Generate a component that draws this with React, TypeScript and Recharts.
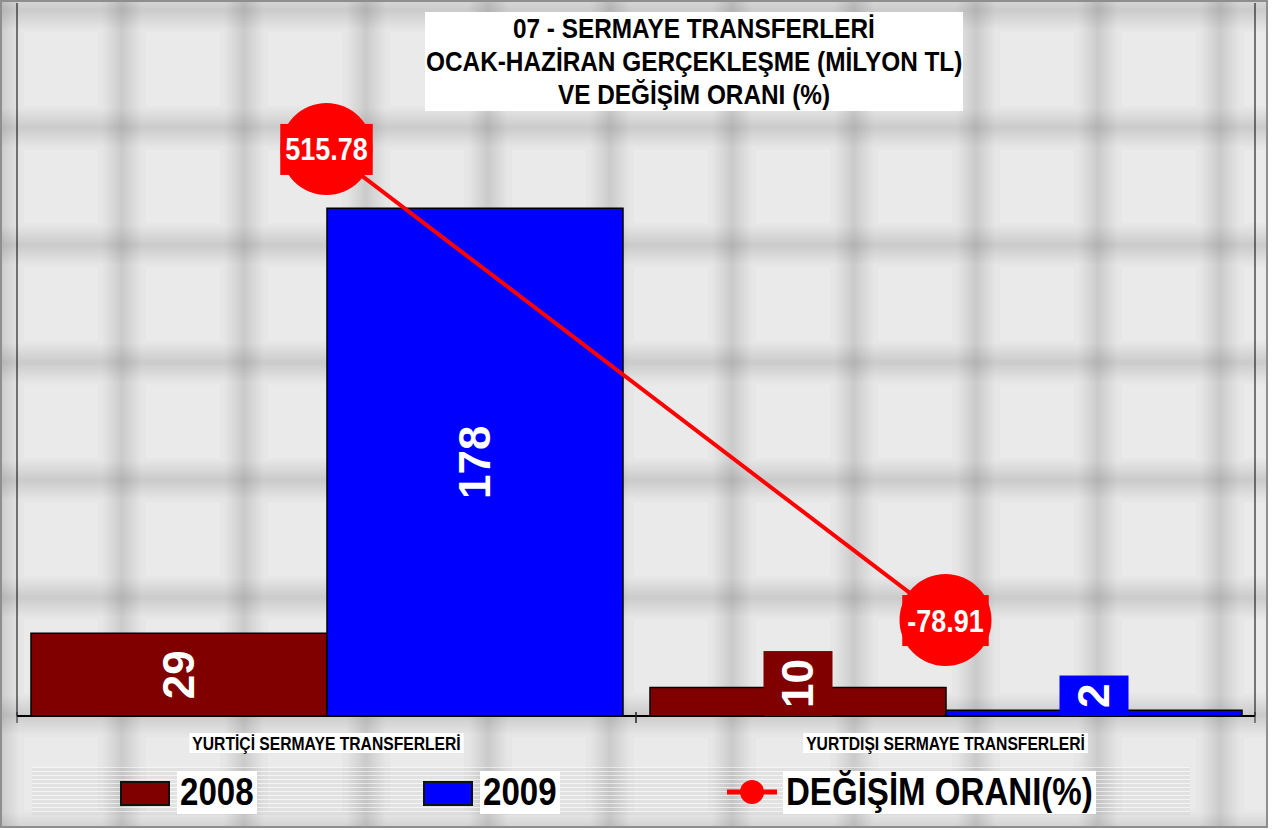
import React from "react";
import {
  Bar,
  ComposedChart,
  LabelList,
  Legend,
  Line,
  XAxis,
  YAxis,
} from "recharts";

// values
const categories = ["YURTİÇİ SERMAYE TRANSFERLERİ", "YURTDIŞI SERMAYE TRANSFERLERİ"];
const values2008 = [29, 10];
const values2009 = [178, 2];
const changeRate = [515.78, -78.91];
const leftTicks = [0, 50, 100, 150, 200, 250];
const rightTicks = [-200, -100, 0, 100, 200, 300, 400, 500, 600, 700];
const titleLines = [
  "07 - SERMAYE TRANSFERLERİ",
  "OCAK-HAZİRAN GERÇEKLEŞME (MİLYON TL)",
  "VE DEĞİŞİM ORANI (%)",
];

const data = categories.map((name, i) => ({
  name,
  y2008: values2008[i],
  y2009: values2009[i],
  rate: changeRate[i],
}));

const RED_DARK = "#800000";
const BLUE = "#0000ff";
const RED = "#ff0000";
const FONT = "'Liberation Sans', Arial, sans-serif";
// no Arial Narrow here, so squeeze Liberation Sans horizontally
const SQUEEZE = 0.87;

let ctx: CanvasRenderingContext2D | null = null;
function textWidth(text: string, size: number) {
  if (!ctx) ctx = document.createElement("canvas").getContext("2d");
  if (!ctx) return text.length * size * 0.6;
  ctx.font = `bold ${size}px ${FONT}`;
  return ctx.measureText(text).width;
}

function NarrowText({ text, size, style }: { text: string; size: number; style?: React.CSSProperties }) {
  const w = textWidth(text, size) * SQUEEZE;
  return (
    <span style={{ display: "inline-block", width: w, whiteSpace: "nowrap", ...style }}>
      <span
        style={{
          display: "inline-block",
          transform: `scaleX(${SQUEEZE})`,
          transformOrigin: "left center",
        }}
      >
        {text}
      </span>
    </span>
  );
}

const barLabel = (fill: string) => (props: any) => {
  const { x, y, width, height, value } = props;
  const fontSize = 44;
  const text = String(value);
  const boxH = textWidth(text, fontSize) + 16;
  const boxW = 69;
  const cx = x + width / 2;
  const base = y + height;
  let cy = y + height / 2;
  if (cy + boxH / 2 > base) cy = base - boxH / 2;
  return (
    <g>
      <rect x={cx - boxW / 2} y={cy - boxH / 2} width={boxW} height={boxH} fill={fill} />
      <text
        x={cx}
        y={cy}
        transform={`rotate(-90 ${cx} ${cy})`}
        textAnchor="middle"
        dominantBaseline="central"
        fill="#fff"
        fontWeight="bold"
        fontSize={fontSize}
        fontFamily={FONT}
      >
        {text}
      </text>
    </g>
  );
};

const rateLabel = (props: any) => {
  const { x, y, value } = props;
  const text = String(value);
  const tw = textWidth(text, 31) * SQUEEZE;
  const w = tw + 10;
  return (
    <g>
      <rect x={x - w / 2} y={y - 25} width={w} height={51} fill={RED} />
      <text
        x={x}
        y={y + 1}
        textAnchor="middle"
        dominantBaseline="central"
        fill="#fff"
        fontWeight="bold"
        fontSize={31}
        fontFamily={FONT}
        textLength={tw}
        lengthAdjust="spacingAndGlyphs"
      >
        {text}
      </text>
    </g>
  );
};

const rateDot = (props: any) => {
  const { cx, cy, index } = props;
  return <circle key={`dot-${index}`} cx={cx} cy={cy} r={46} fill={RED} />;
};

function CategoryTick(props: any) {
  const { x, y, payload } = props;
  const half = payload?.offset || 309.5;
  const text = String(payload.value);
  const tw = textWidth(text, 18) * SQUEEZE;
  const w = tw + 6;
  return (
    <g>
      <line x1={x - half} x2={x - half} y1={y - 4} y2={y + 7} stroke="#222" />
      <line x1={x + half} x2={x + half} y1={y - 4} y2={y + 7} stroke="#222" />
      <rect x={x - w / 2} y={y + 17} width={w} height={20} fill="#fff" />
      <text
        x={x}
        y={y + 27.5}
        textAnchor="middle"
        dominantBaseline="central"
        fontWeight="bold"
        fontSize={18}
        fontFamily={FONT}
        fill="#000"
        textLength={tw}
        lengthAdjust="spacingAndGlyphs"
      >
        {text}
      </text>
    </g>
  );
}

const legendLeft = [88, 391, 695];

function LegendContent(props: any) {
  const items = props.payload || [];
  return (
    <div
      style={{
        position: "relative",
        width: 1158,
        height: 48,
        backgroundImage:
          "repeating-linear-gradient(to bottom, rgba(255,255,255,0.5) 0px, rgba(255,255,255,0.5) 1px, rgba(0,0,0,0.035) 1px, rgba(0,0,0,0.035) 4px)",
      }}
    >
      {items.map((item: any, i: number) => {
        const left = legendLeft[i] ?? 0;
        const marker =
          item.type === "line" ? (
            <svg width={50} height={26} style={{ position: "absolute", left, top: 12 }}>
              <line x1={0} x2={50} y1={13} y2={13} stroke={item.color} strokeWidth={5} />
              <circle cx={25} cy={13} r={12} fill={item.color} />
            </svg>
          ) : (
            <div
              style={{
                position: "absolute",
                left,
                top: 14,
                width: 50,
                height: 25,
                boxSizing: "border-box",
                border: "2px solid #111",
                background: item.color,
              }}
            />
          );
        return (
          <React.Fragment key={item.value}>
            {marker}
            <div
              style={{
                position: "absolute",
                left: left + (item.type === "line" ? 56 : 57),
                top: 4,
                height: 43,
                lineHeight: "43px",
                padding: "0 3px",
                background: "#fff",
                fontFamily: FONT,
                fontWeight: "bold",
                fontSize: 38,
                color: "#000",
              }}
            >
              <NarrowText text={String(item.value)} size={38} />
            </div>
          </React.Fragment>
        );
      })}
    </div>
  );
}

export default function App() {
  return (
    <div
      style={{
        position: "fixed",
        left: 0,
        top: 0,
        width: 1268,
        height: 828,
        boxSizing: "border-box",
        border: "2px solid #8e8e8e",
        overflow: "hidden",
        background: "#e7e7e7",
      }}
    >
      <svg width={1264} height={824} style={{ position: "absolute", left: 0, top: 0 }}>
        <defs>
          <linearGradient id="gv" x1="0" x2="1" y1="0" y2="0">
            <stop offset="0" stopColor="#000" stopOpacity={0} />
            <stop offset="0.5" stopColor="#000" stopOpacity={0.12} />
            <stop offset="1" stopColor="#000" stopOpacity={0} />
          </linearGradient>
          <linearGradient id="gh" x1="0" x2="0" y1="0" y2="1">
            <stop offset="0" stopColor="#000" stopOpacity={0} />
            <stop offset="0.5" stopColor="#000" stopOpacity={0.12} />
            <stop offset="1" stopColor="#000" stopOpacity={0} />
          </linearGradient>
          <pattern id="tiles" width={122} height={117.5} patternUnits="userSpaceOnUse" x={-2} y={8}>
            <rect width={122} height={117.5} fill="#e6e6e6" />
            <rect x={24} y={22} width={74} height={74} fill="#eaeaea" />
            <rect x={-20} y={0} width={40} height={117.5} fill="url(#gv)" />
            <rect x={102} y={0} width={40} height={117.5} fill="url(#gv)" />
            <rect x={0} y={-20} width={122} height={40} fill="url(#gh)" />
            <rect x={0} y={97.5} width={122} height={40} fill="url(#gh)" />
          </pattern>
        </defs>
        <rect width={1264} height={824} fill="url(#tiles)" />
      </svg>

      <ComposedChart
        width={1264}
        height={824}
        data={data}
        margin={{ top: 1, right: 0, left: 0, bottom: 11 }}
        barCategoryGap={14}
        barGap={0}
      >
        <XAxis
          dataKey="name"
          height={51}
          interval={0}
          tickSize={0}
          tickMargin={0}
          tickLine={false}
          axisLine={{ stroke: "#000", strokeWidth: 2 }}
          tick={<CategoryTick />}
        />
        <YAxis
          yAxisId="left"
          width={15}
          domain={[0, 250]}
          ticks={leftTicks}
          tick={false}
          tickSize={5}
          tickLine={{ stroke: "#f4f4f4" }}
          axisLine={{ stroke: "#000" }}
        />
        <YAxis
          yAxisId="right"
          orientation="right"
          width={11}
          domain={[-200, 700]}
          ticks={rightTicks}
          tick={false}
          tickSize={4}
          tickLine={{ stroke: "#f4f4f4" }}
          axisLine={{ stroke: "#000" }}
        />
        <Legend
          verticalAlign="bottom"
          content={<LegendContent />}
          wrapperStyle={{ left: 30, bottom: 11, width: 1158, height: 48 }}
        />
        <Bar
          yAxisId="left"
          dataKey="y2008"
          name="2008"
          fill={RED_DARK}
          stroke="#000"
          strokeWidth={1.5}
          isAnimationActive={false}
        >
          <LabelList dataKey="y2008" content={barLabel(RED_DARK)} />
        </Bar>
        <Bar
          yAxisId="left"
          dataKey="y2009"
          name="2009"
          fill={BLUE}
          stroke="#000"
          strokeWidth={1.5}
          isAnimationActive={false}
        >
          <LabelList dataKey="y2009" content={barLabel(BLUE)} />
        </Bar>
        <Line
          yAxisId="right"
          dataKey="rate"
          name="DEĞİŞİM ORANI(%)"
          stroke={RED}
          strokeWidth={4}
          dot={rateDot}
          activeDot={false}
          legendType="line"
          isAnimationActive={false}
        >
          <LabelList dataKey="rate" content={rateLabel} />
        </Line>
      </ComposedChart>

      <div
        style={{
          position: "absolute",
          left: 423,
          top: 10,
          width: 538,
          height: 99,
          background: "#fff",
          textAlign: "center",
          fontFamily: FONT,
          fontWeight: "bold",
          fontSize: 28,
          lineHeight: "33px",
          color: "#000",
        }}
      >
        {titleLines.map((t) => (
          <div key={t}>
            <NarrowText text={t} size={28} />
          </div>
        ))}
      </div>
    </div>
  );
}
